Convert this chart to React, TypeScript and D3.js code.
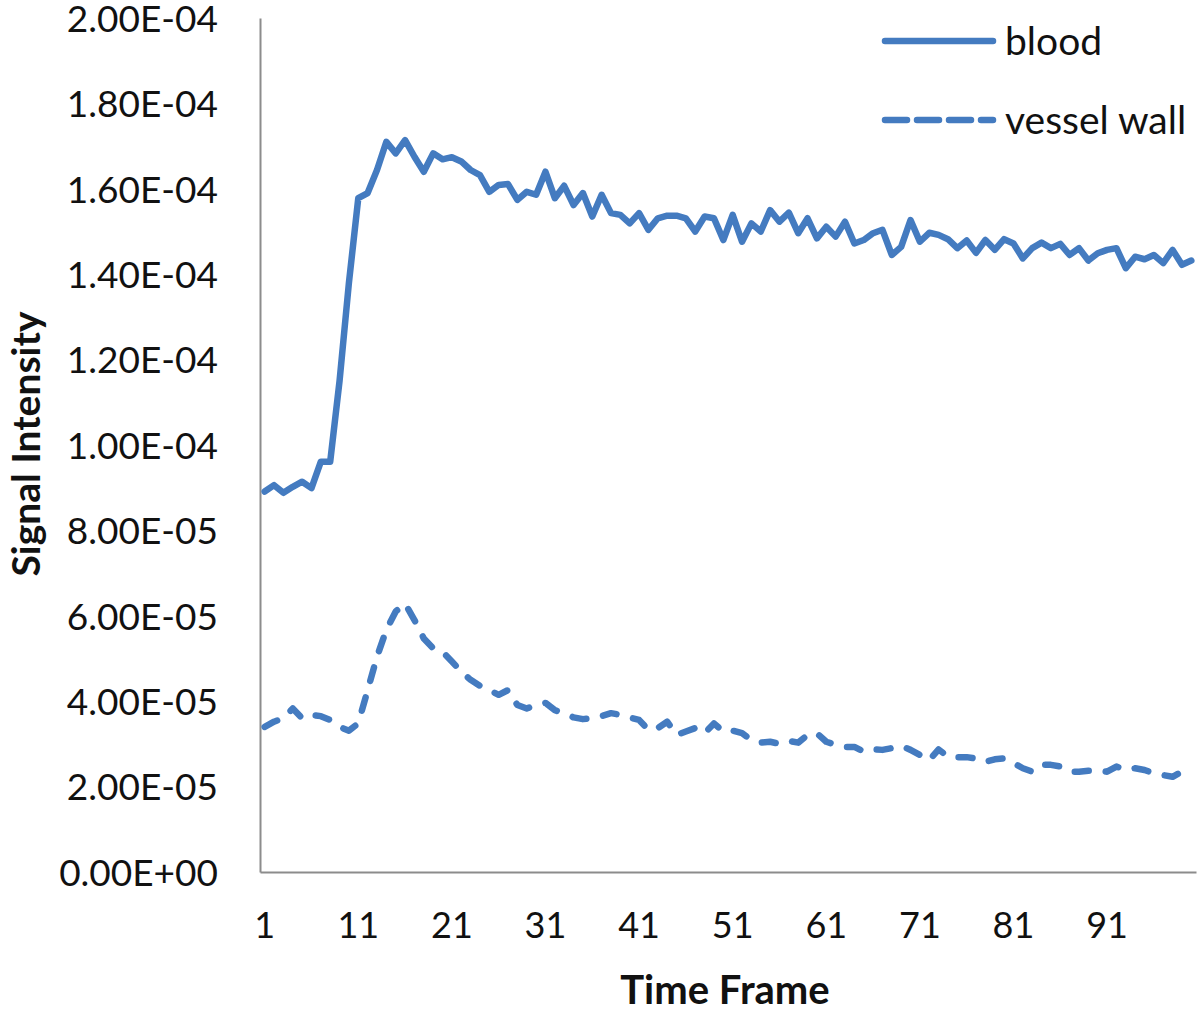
import React, { useRef, useEffect } from 'react';
import * as d3 from 'd3';

const frames: number[] = d3.range(1, 101);

const blood: number[] = [
  8.91e-5, 9.06e-5, 8.88e-5, 9.02e-5, 9.14e-5, 8.99e-5, 9.61e-5, 9.61e-5, 1.15e-4, 1.38e-4,
  1.578e-4, 1.59e-4, 1.644e-4, 1.71e-4, 1.683e-4, 1.714e-4, 1.675e-4, 1.64e-4, 1.683e-4, 1.669e-4,
  1.674e-4, 1.664e-4, 1.644e-4, 1.632e-4, 1.593e-4, 1.609e-4, 1.611e-4, 1.574e-4, 1.593e-4, 1.586e-4,
  1.64e-4, 1.578e-4, 1.607e-4, 1.562e-4, 1.59e-4, 1.535e-4, 1.586e-4, 1.543e-4, 1.539e-4, 1.519e-4,
  1.543e-4, 1.504e-4, 1.531e-4, 1.537e-4, 1.537e-4, 1.531e-4, 1.50e-4, 1.535e-4, 1.531e-4, 1.48e-4,
  1.539e-4, 1.476e-4, 1.519e-4, 1.50e-4, 1.55e-4, 1.523e-4, 1.544e-4, 1.496e-4, 1.531e-4, 1.484e-4,
  1.511e-4, 1.488e-4, 1.523e-4, 1.472e-4, 1.48e-4, 1.496e-4, 1.504e-4, 1.445e-4, 1.464e-4, 1.527e-4,
  1.476e-4, 1.497e-4, 1.492e-4, 1.482e-4, 1.461e-4, 1.479e-4, 1.45e-4, 1.48e-4, 1.457e-4, 1.482e-4,
  1.472e-4, 1.437e-4, 1.461e-4, 1.474e-4, 1.461e-4, 1.471e-4, 1.445e-4, 1.461e-4, 1.432e-4, 1.449e-4,
  1.457e-4, 1.461e-4, 1.414e-4, 1.441e-4, 1.435e-4, 1.445e-4, 1.426e-4, 1.457e-4, 1.422e-4, 1.432e-4,
];

const vesselWall: number[] = [
  3.40e-5, 3.52e-5, 3.60e-5, 3.83e-5, 3.60e-5, 3.68e-5, 3.65e-5, 3.56e-5, 3.40e-5, 3.31e-5,
  3.48e-5, 4.26e-5, 5.04e-5, 5.67e-5, 6.10e-5, 6.29e-5, 5.90e-5, 5.47e-5, 5.24e-5, 5.16e-5,
  4.93e-5, 4.69e-5, 4.50e-5, 4.36e-5, 4.26e-5, 4.15e-5, 4.26e-5, 3.91e-5, 3.83e-5, 3.91e-5,
  3.96e-5, 3.79e-5, 3.72e-5, 3.62e-5, 3.58e-5, 3.60e-5, 3.65e-5, 3.72e-5, 3.68e-5, 3.62e-5,
  3.56e-5, 3.33e-5, 3.37e-5, 3.52e-5, 3.21e-5, 3.29e-5, 3.37e-5, 3.25e-5, 3.48e-5, 3.29e-5,
  3.31e-5, 3.25e-5, 3.09e-5, 3.03e-5, 3.05e-5, 3.00e-5, 3.07e-5, 3.03e-5, 3.21e-5, 3.25e-5,
  3.05e-5, 2.98e-5, 2.93e-5, 2.93e-5, 2.82e-5, 2.87e-5, 2.86e-5, 2.90e-5, 2.95e-5, 2.86e-5,
  2.74e-5, 2.62e-5, 2.87e-5, 2.70e-5, 2.69e-5, 2.69e-5, 2.66e-5, 2.58e-5, 2.64e-5, 2.66e-5,
  2.55e-5, 2.43e-5, 2.35e-5, 2.51e-5, 2.51e-5, 2.47e-5, 2.35e-5, 2.35e-5, 2.37e-5, 2.37e-5,
  2.35e-5, 2.47e-5, 2.39e-5, 2.43e-5, 2.39e-5, 2.31e-5, 2.27e-5, 2.23e-5, 2.35e-5, 2.39e-5,
];

const yTicks: number[] = [0, 2e-5, 4e-5, 6e-5, 8e-5, 1e-4, 1.2e-4, 1.4e-4, 1.6e-4, 1.8e-4, 2e-4];
const yTickLabels: string[] = [
  "0.00E+00", "2.00E-05", "4.00E-05", "6.00E-05", "8.00E-05", "1.00E-04",
  "1.20E-04", "1.40E-04", "1.60E-04", "1.80E-04", "2.00E-04",
];
const xTicks: number[] = [1, 11, 21, 31, 41, 51, 61, 71, 81, 91];

const seriesNames: string[] = ["blood", "vessel wall"];

const App = () => {
  const chartRef = useRef<SVGSVGElement>(null);

  useEffect(() => {
    const width = 1200;
    const height = 1012;
    const left = 260, right = 1196, top = 18, bottom = 872;
    const color = "#447bc0";
    const font = "Lato, 'Open Sans', sans-serif";

    const svg = d3.select(chartRef.current)
      .attr("width", width)
      .attr("height", height)
      .style("position", "absolute")
      .style("left", "0px")
      .style("top", "0px")
      .style("background", "#fff");

    const x = d3.scaleBand<number>().domain(frames).range([left, right]);
    const cx = (f: number) => (x(f) as number) + x.bandwidth() / 2;
    const y = d3.scaleLinear().domain([0, 2e-4]).range([bottom, top]);

    // axes
    const yAxis = svg.append("g")
      .attr("transform", `translate(${left},0)`)
      .call(d3.axisLeft(y).tickValues(yTicks).tickSize(0).tickPadding(42)
        .tickFormat((d, i) => yTickLabels[i]));
    yAxis.select(".domain").attr("stroke", "#8c8c8c").attr("stroke-width", 2);
    yAxis.selectAll("text")
      .attr("font-family", font)
      .attr("font-size", 37)
      .attr("fill", "#111")
      .attr("dy", "0.36em");

    const xAxis = svg.append("g")
      .attr("transform", `translate(0,${bottom})`)
      .call(d3.axisBottom(x).tickValues(xTicks).tickSize(0).tickPadding(40));
    xAxis.select(".domain").attr("stroke", "#8c8c8c").attr("stroke-width", 2);
    xAxis.selectAll("text")
      .attr("font-family", font)
      .attr("font-size", 36)
      .attr("fill", "#111");

    svg.append("text")
      .attr("x", 725)
      .attr("y", 1004)
      .attr("text-anchor", "middle")
      .attr("font-family", font)
      .attr("font-size", 40)
      .attr("font-weight", "bold")
      .attr("fill", "#111")
      .text("Time Frame");

    svg.append("text")
      .attr("transform", `translate(40,444) rotate(-90)`)
      .attr("text-anchor", "middle")
      .attr("font-family", font)
      .attr("font-size", 39)
      .attr("font-weight", "bold")
      .attr("fill", "#111")
      .text("Signal Intensity");

    // lines
    const line = d3.line<number>()
      .x((d, i) => cx(frames[i]))
      .y(d => y(d));

    const dashes = ["none", "14 17"];
    [blood, vesselWall].forEach((vals, k) => {
      svg.append("path")
        .datum(vals)
        .attr("fill", "none")
        .attr("stroke", color)
        .attr("stroke-width", 6.5)
        .attr("stroke-linejoin", "round")
        .attr("stroke-linecap", "round")
        .attr("stroke-dasharray", dashes[k])
        .attr("d", line);
    });

    // legend
    const legend = svg.append("g");
    seriesNames.forEach((name, k) => {
      const ly = 41 + k * 79;
      legend.append("line")
        .attr("x1", 885).attr("x2", 993)
        .attr("y1", ly).attr("y2", ly)
        .attr("stroke", color)
        .attr("stroke-width", 6.5)
        .attr("stroke-linecap", "round")
        .attr("stroke-dasharray", k === 0 ? "none" : "22 10");
      legend.append("text")
        .attr("x", 1005)
        .attr("y", ly)
        .attr("dy", "0.36em")
        .attr("font-family", font)
        .attr("font-size", 39)
        .attr("fill", "#111")
        .text(name);
    });

    return () => {
      svg.selectAll("*").remove();
    };
  }, []);

  return <svg ref={chartRef} />;
};

export default App;
